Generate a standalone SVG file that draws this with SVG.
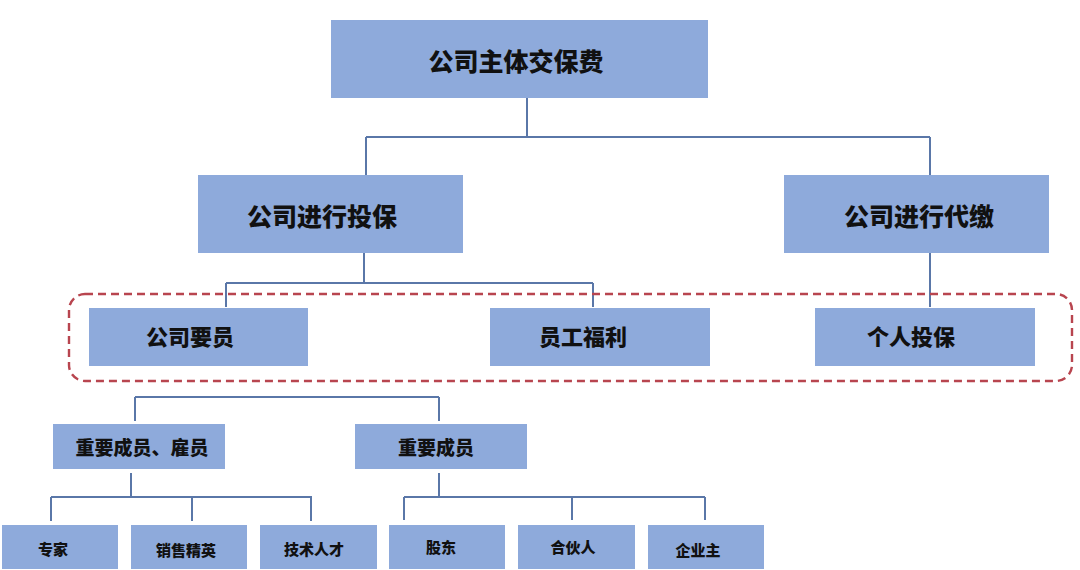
<svg xmlns="http://www.w3.org/2000/svg" width="1080" height="570" viewBox="0 0 1080 570">
<style>
.box{fill:#8eaadb;}
.t{font-family:"Noto Sans CJK SC","Noto Sans",sans-serif;font-weight:900;fill:#111;text-anchor:middle;dominant-baseline:central;}
.l{font-size:25px;}
.m{font-size:22px;}
.s{font-size:19px;}
.xs{font-size:15px;}
.c{fill:none;stroke:#5a77a8;stroke-width:2;}
</style>
<rect width="1080" height="570" fill="#ffffff"/>
<g id="connectors">
<path class="c" d="M527,98 V137 M366,137 H930 M366,137 V175 M930,137 V175"/>
<path class="c" d="M364,253 V283 M226,283 H593 M226,283 V307 M593,283 V307"/>
<path class="c" d="M930,253 V307"/>
<path class="c" d="M135,397 H439 M135,397 V421 M439,397 V421"/>
<path class="c" d="M131,473 V497 M51,497 H312 M51,497 V521 M192,497 V521 M311,497 V521"/>
<path class="c" d="M439,473 V497 M404,497 H705 M404,497 V520 M572,497 V520 M705,497 V520"/>
</g>
<g id="group-dashed">
<rect x="69" y="294" width="1003" height="87" rx="16" fill="none" stroke="#b8454f" stroke-width="2.4" stroke-dasharray="8,5"/>
</g>
<g id="n-root"><rect class="box" x="331" y="20" width="377" height="78"/><text class="t l" x="516" y="60">公司主体交保费</text></g>
<g id="n-tb"><rect class="box" x="198" y="175" width="265" height="78"/><text class="t l" x="322" y="215">公司进行投保</text></g>
<g id="n-dj"><rect class="box" x="784" y="175" width="265" height="78"/><text class="t l" x="919" y="215">公司进行代缴</text></g>
<g id="n-gsyy"><rect class="box" x="89" y="308" width="219" height="58"/><text class="t m" x="190" y="335">公司要员</text></g>
<g id="n-ygfl"><rect class="box" x="490" y="308" width="220" height="58"/><text class="t m" x="583" y="335">员工福利</text></g>
<g id="n-grtb"><rect class="box" x="815" y="308" width="220" height="58"/><text class="t m" x="911" y="335">个人投保</text></g>
<g id="n-zycy-gy"><rect class="box" x="53" y="424" width="172" height="45"/><text class="t s" x="142" y="446">重要成员、雇员</text></g>
<g id="n-zycy"><rect class="box" x="355" y="424" width="172" height="45"/><text class="t s" x="436" y="446">重要成员</text></g>
<g id="n-zj"><rect class="box" x="2" y="525" width="116" height="44"/><text class="t xs" x="53" y="548">专家</text></g>
<g id="n-xsjy"><rect class="box" x="131" y="525" width="116" height="44"/><text class="t xs" x="186" y="549">销售精英</text></g>
<g id="n-jsrc"><rect class="box" x="260" y="525" width="117" height="44"/><text class="t xs" x="314" y="548">技术人才</text></g>
<g id="n-gd"><rect class="box" x="389" y="525" width="116" height="44"/><text class="t xs" x="441" y="546">股东</text></g>
<g id="n-hhr"><rect class="box" x="518" y="525" width="117" height="44"/><text class="t xs" x="573" y="546">合伙人</text></g>
<g id="n-qyz"><rect class="box" x="648" y="525" width="116" height="44"/><text class="t xs" x="698" y="549">企业主</text></g>
</svg>
